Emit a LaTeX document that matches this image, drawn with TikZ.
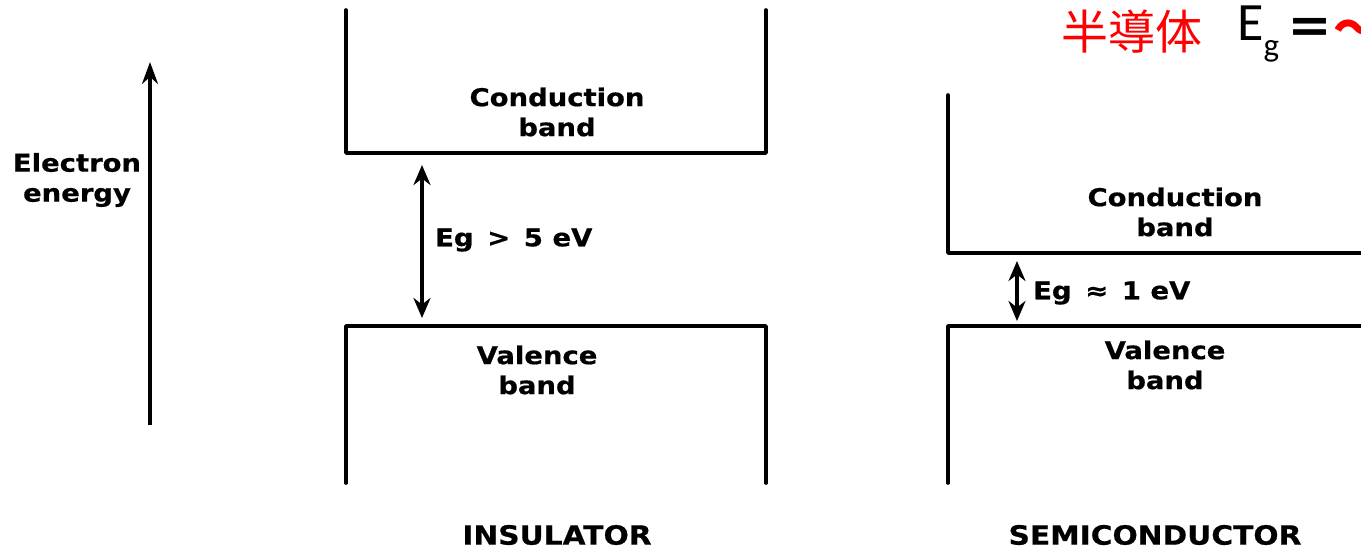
\documentclass[tikz,border=0pt]{standalone}
\usepackage{fontspec}
\setmainfont{DejaVu Sans}[FakeStretch=1.12,BoldFeatures={FakeBold=0.6}]
\newfontfamily\jpfont{Noto Sans CJK JP}
\newfontfamily\calfont{Carlito}
\definecolor{jpred}{RGB}{255,0,0}
\usetikzlibrary{arrows.meta}

\begin{document}
\begin{tikzpicture}[x=1pt,y=-1pt,
  band/.style={line width=3.6pt,line cap=round,line join=round},
  gap/.style={{Stealth[length=20pt,width=17pt]}-{Stealth[length=20pt,width=17pt]},line width=3.4pt},
  axis/.style={-{Stealth[length=22pt,width=16pt]},line width=3.4pt},
  lbl/.style={font=\bfseries\fontsize{24.5}{30}\selectfont,align=center,inner sep=0pt},
  title/.style={font=\bfseries\fontsize{26.5}{30}\selectfont,inner sep=0pt}]
  \useasboundingbox (0,0) rectangle (1361,550);
  \clip (0,0) rectangle (1361,550);
  % energy axis
  \coordinate (axis-lo) at (150,425);
  \coordinate (axis-hi) at (150,62);
  \draw[axis] (axis-lo) -- (axis-hi);
  \node[lbl] (energy) at (77,180) {Electron\\energy};
  % insulator
  \draw[band] (346,10) -- (346,153) -- (766,153) -- (766,10);
  \draw[band] (346,483) -- (346,326) -- (766,326) -- (766,483);
  \node[lbl] (ins-cb) at (557,112) {Conduction\\band};
  \node[lbl] (ins-vb) at (537,370) {Valence\\band};
  \coordinate (ins-top) at (422,165);
  \coordinate (ins-bot) at (422,318);
  \draw[gap] (ins-top) -- (ins-bot);
  \node[lbl,anchor=west] (ins-eg) at (435,240) {Eg \,>\, 5 eV};
  \node[title] (ins-name) at (557,535) {INSULATOR};
  % semiconductor
  \draw[band] (948,95) -- (948,253) -- (1365,253);
  \draw[band] (948,483) -- (948,326) -- (1365,326);
  \node[lbl] (sc-cb) at (1175,212) {Conduction\\band};
  \node[lbl] (sc-vb) at (1165,365) {Valence\\band};
  \coordinate (sc-top) at (1017,261);
  \coordinate (sc-bot) at (1017,321);
  \draw[gap] (sc-top) -- (sc-bot);
  \node[lbl,anchor=west] (sc-eg) at (1033,293) {Eg \,≈\, 1 eV};
  \node[title] (sc-name) at (1155,535) {SEMICONDUCTOR};
  % note
  \node[anchor=west,inner sep=0pt,text=jpred,font=\jpfont\fontsize{47}{50}\selectfont] (note-jp) at (1061,32) {半導体};
  \node[anchor=west,inner sep=0pt,font=\calfont\fontsize{54}{56}\selectfont] (note-eg) at (1237,34) {E\raisebox{-0.3em}{\calfont\fontsize{33}{34}\selectfont g}};
  \node[anchor=west,inner sep=0pt,font=\jpfont\bfseries\fontsize{47}{50}\selectfont] (note-eq) at (1286,32) {＝\textcolor{jpred}{～}};
\end{tikzpicture}
\end{document}
